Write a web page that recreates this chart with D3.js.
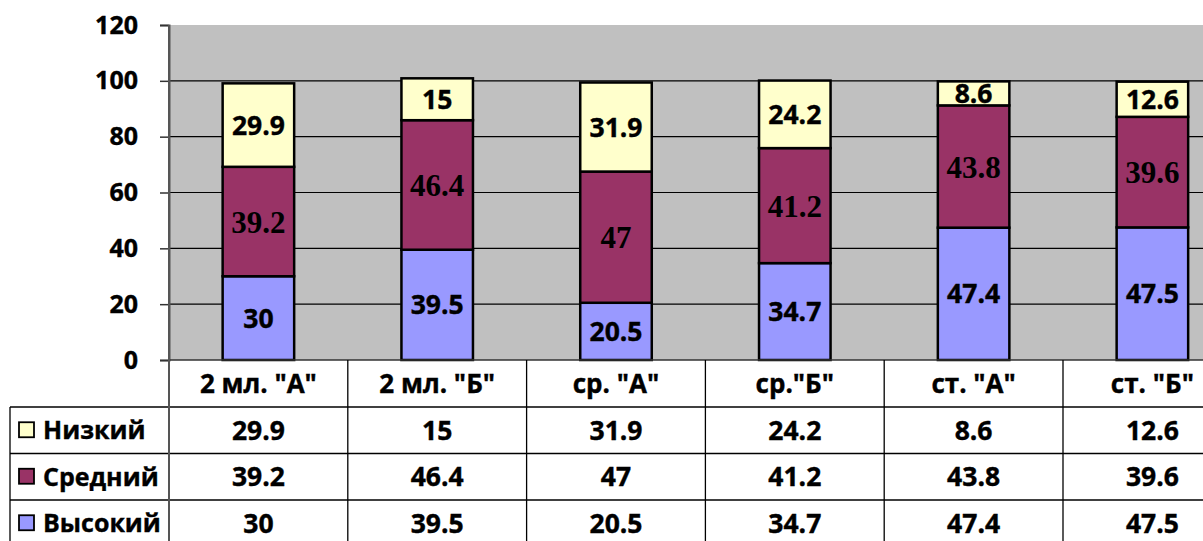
<!DOCTYPE html>
<html>
<head>
<meta charset="utf-8">
<script src="https://cdn.jsdelivr.net/npm/d3@7"></script>
<style>
  html, body { margin: 0; padding: 0; background: #fff; }
  svg { display: block; }
  .sans { font-family: "Open Sans", Lato, sans-serif; font-weight: 700; stroke: #000; stroke-width: 0.4px; }
  .serif { font-family: "Liberation Serif", "DejaVu Serif", serif; font-weight: 700; }
</style>
</head>
<body>
<svg id="chart" width="1203" height="541"></svg>
<script>
const groups = ['2 мл. "А"', '2 мл. "Б"', 'ср. "А"', 'ср."Б"', 'ст. "А"', 'ст. "Б"'];
const seriesNames = ['Высокий', 'Средний', 'Низкий'];
const high = [30, 39.5, 20.5, 34.7, 47.4, 47.5];
const mid = [39.2, 46.4, 47, 41.2, 43.8, 39.6];
const low = [29.9, 15, 31.9, 24.2, 8.6, 12.6];
const yTicks = [0, 20, 40, 60, 80, 100, 120];
const colors = { 'Высокий': '#9999ff', 'Средний': '#993366', 'Низкий': '#ffffcc' };

const svg = d3.select('#chart');
const plotLeft = 169, plotTop = 25, plotBottom = 360;
const band = 178.8;

const x = d3.scaleBand().domain(groups).range([plotLeft, plotLeft + band * groups.length]).paddingInner(0).paddingOuter(0);
const y = d3.scaleLinear().domain([0, 120]).range([plotBottom, plotTop]);
const barW = x.bandwidth() * 0.4;

// plot background
svg.append('rect')
  .attr('x', plotLeft).attr('y', plotTop)
  .attr('width', 1203 - plotLeft).attr('height', plotBottom - plotTop)
  .attr('fill', '#c0c0c0');

// gridlines
svg.append('g')
  .selectAll('line')
  .data(yTicks.filter((t) => t > 0 && t < 120))
  .join('line')
  .attr('x1', plotLeft).attr('x2', 1203)
  .attr('y1', (d) => y(d)).attr('y2', (d) => y(d))
  .attr('stroke', '#000').attr('stroke-width', 1.2);

// y axis
const yAxis = svg.append('g')
  .attr('transform', `translate(${plotLeft},0)`)
  .call(d3.axisLeft(y).tickValues(yTicks).tickSize(9).tickPadding(22).tickFormat(d3.format('d')));
yAxis.select('.domain').attr('stroke', '#555').attr('stroke-width', 2);
yAxis.selectAll('.tick line').attr('stroke', '#333').attr('stroke-width', 1.5);
yAxis.selectAll('text').attr('class', 'sans').attr('font-size', 25).attr('fill', '#000');

// stacked bars
const rows = groups.map((g, i) => ({ group: g, 'Высокий': high[i], 'Средний': mid[i], 'Низкий': low[i] }));
const stack = d3.stack().keys(seriesNames)(rows);

const layer = svg.append('g')
  .selectAll('g')
  .data(stack)
  .join('g')
  .attr('fill', (d) => colors[d.key]);

layer.selectAll('rect')
  .data((d) => d)
  .join('rect')
  .attr('x', (d) => x(d.data.group) + (x.bandwidth() - barW) / 2)
  .attr('y', (d) => y(d[1]))
  .attr('width', barW)
  .attr('height', (d) => y(d[0]) - y(d[1]))
  .attr('stroke', '#000')
  .attr('stroke-width', 2.5);

// bar value labels
stack.forEach((s) => {
  svg.append('g')
    .selectAll('text')
    .data(s)
    .join('text')
    .attr('class', s.key === 'Средний' ? 'serif' : 'sans')
    .attr('x', (d) => x(d.data.group) + x.bandwidth() / 2)
    .attr('y', (d) => (y(d[0]) + y(d[1])) / 2)
    .attr('dy', '0.36em')
    .attr('text-anchor', 'middle')
    .attr('font-size', s.key === 'Средний' ? 31 : 26.5)
    .attr('fill', '#000')
    .text((d) => d.data[s.key]);
});

// x axis line
svg.append('line')
  .attr('x1', plotLeft).attr('x2', 1203)
  .attr('y1', plotBottom).attr('y2', plotBottom)
  .attr('stroke', '#333').attr('stroke-width', 1.5);

// data table
const rowH = 46.5;
const headerBottom = 407;
const tableRows = [
  { name: 'Низкий', values: low },
  { name: 'Средний', values: mid },
  { name: 'Высокий', values: high }
];
const table = svg.append('g');

// horizontal lines
tableRows.forEach((r, i) => {
  table.append('line')
    .attr('x1', 10).attr('x2', 1203)
    .attr('y1', headerBottom + i * rowH).attr('y2', headerBottom + i * rowH)
    .attr('stroke', '#000').attr('stroke-width', 1.3);
});
// vertical lines
table.append('line')
  .attr('x1', 10).attr('x2', 10)
  .attr('y1', headerBottom).attr('y2', 541)
  .attr('stroke', '#000').attr('stroke-width', 1.3);
table.selectAll('.vline')
  .data(groups)
  .join('line')
  .attr('class', 'vline')
  .attr('x1', (d) => x(d)).attr('x2', (d) => x(d))
  .attr('y1', (d, i) => i === 0 ? plotTop : plotBottom).attr('y2', 541)
  .attr('stroke', (d, i) => i === 0 ? '#555' : '#000')
  .attr('stroke-width', (d, i) => i === 0 ? 2 : 1.3);

// header labels
table.selectAll('.hdr')
  .data(groups)
  .join('text')
  .attr('class', 'sans')
  .attr('x', (d) => x(d) + x.bandwidth() / 2)
  .attr('y', (plotBottom + headerBottom) / 2)
  .attr('dy', '0.36em')
  .attr('text-anchor', 'middle')
  .attr('font-size', 26)
  .text((d) => d);

// rows
tableRows.forEach((r, i) => {
  const cy = headerBottom + i * rowH + rowH / 2;
  table.append('rect')
    .attr('x', 19).attr('y', cy - 8)
    .attr('width', 15).attr('height', 15)
    .attr('fill', colors[r.name])
    .attr('stroke', '#000').attr('stroke-width', 1.8);
  table.append('text')
    .attr('class', 'sans')
    .attr('x', 43).attr('y', cy)
    .attr('dy', '0.36em')
    .attr('font-size', 25)
    .text(r.name);
  table.selectAll(null)
    .data(r.values)
    .join('text')
    .attr('class', 'sans')
    .attr('x', (d, j) => x(groups[j]) + x.bandwidth() / 2)
    .attr('y', cy)
    .attr('dy', '0.36em')
    .attr('text-anchor', 'middle')
    .attr('font-size', 26.5)
    .text((d) => d);
});
</script>
</body>
</html>
